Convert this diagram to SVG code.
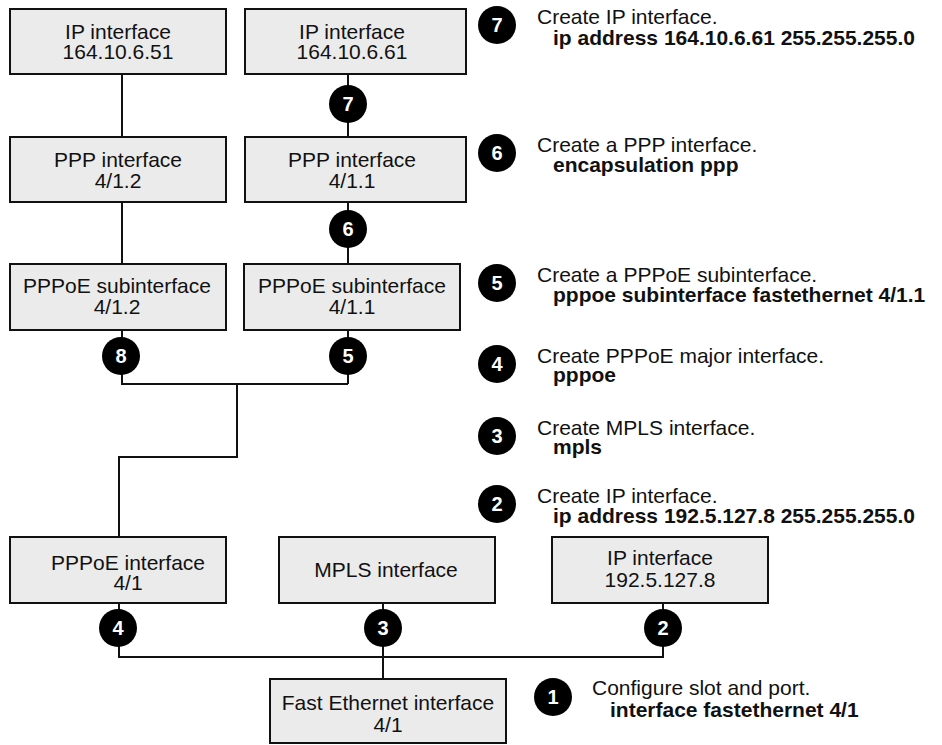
<svg xmlns="http://www.w3.org/2000/svg" width="942" height="745" viewBox="0 0 942 745">
  <style>
    .box { fill: #ebebeb; stroke: #111; stroke-width: 2; }
    .lbl { font-family: "Liberation Sans", Arial, sans-serif; font-size: 21px; fill: #111; text-anchor: middle; }
    .wire { fill: none; stroke: #111; stroke-width: 2; }
    .dot { fill: #000; }
    .num { font-family: "Liberation Sans", Arial, sans-serif; font-size: 20px; font-weight: bold; fill: #fff; text-anchor: middle; }
    .step { font-family: "Liberation Sans", Arial, sans-serif; font-size: 21px; fill: #111; }
    .cmd { font-family: "Liberation Sans", Arial, sans-serif; font-size: 21px; font-weight: bold; fill: #111; }
  </style>
  <defs>
    <g id="badge"><circle class="dot" r="19"/></g>
  </defs>

  <rect width="942" height="745" fill="#fff"/>

  <!-- connectors -->
  <g id="connectors">
    <path class="wire" d="M122 74 V137 M122 202 V264 M122 330 V384 H348 M348 330 V384"/>
    <path class="wire" d="M348 74 V137 M348 202 V264"/>
    <path class="wire" d="M237 384 V457 H119 V537"/>
    <path class="wire" d="M119 603 V657 H663 V603 M383 603 V679"/>
  </g>

  <!-- interface nodes -->
  <g id="ip-164-10-6-51">
    <rect class="box" x="10" y="9" width="216" height="65"/>
    <text class="lbl" x="118" y="39">IP interface</text>
    <text class="lbl" x="118" y="59">164.10.6.51</text>
  </g>
  <g id="ip-164-10-6-61">
    <rect class="box" x="245" y="9" width="221" height="65"/>
    <text class="lbl" x="352" y="39">IP interface</text>
    <text class="lbl" x="352" y="59">164.10.6.61</text>
  </g>
  <g id="ppp-4-1-2">
    <rect class="box" x="10" y="137" width="216" height="65"/>
    <text class="lbl" x="118" y="167">PPP interface</text>
    <text class="lbl" x="118" y="188">4/1.2</text>
  </g>
  <g id="ppp-4-1-1">
    <rect class="box" x="245" y="137" width="221" height="65"/>
    <text class="lbl" x="352" y="167">PPP interface</text>
    <text class="lbl" x="352" y="188">4/1.1</text>
  </g>
  <g id="pppoe-sub-4-1-2">
    <rect class="box" x="10" y="264" width="216" height="66"/>
    <text class="lbl" x="117" y="293">PPPoE subinterface</text>
    <text class="lbl" x="117" y="314">4/1.2</text>
  </g>
  <g id="pppoe-sub-4-1-1">
    <rect class="box" x="244" y="264" width="216" height="66"/>
    <text class="lbl" x="352" y="293">PPPoE subinterface</text>
    <text class="lbl" x="352" y="314">4/1.1</text>
  </g>
  <g id="pppoe-4-1">
    <rect class="box" x="10" y="537" width="216" height="66"/>
    <text class="lbl" x="128" y="570">PPPoE interface</text>
    <text class="lbl" x="128" y="590">4/1</text>
  </g>
  <g id="mpls">
    <rect class="box" x="279" y="537" width="216" height="66"/>
    <text class="lbl" x="386" y="577">MPLS interface</text>
  </g>
  <g id="ip-192-5-127-8">
    <rect class="box" x="552" y="537" width="216" height="66"/>
    <text class="lbl" x="660" y="565">IP interface</text>
    <text class="lbl" x="660" y="587">192.5.127.8</text>
  </g>
  <g id="fastethernet-4-1">
    <rect class="box" x="270" y="679" width="236" height="64"/>
    <text class="lbl" x="388" y="710">Fast Ethernet interface</text>
    <text class="lbl" x="388" y="732">4/1</text>
  </g>

  <!-- step badges on the connectors -->
  <g id="badges-on-wires">
    <use href="#badge" x="348" y="104"/><text class="num" x="348" y="111">7</text>
    <use href="#badge" x="348" y="229"/><text class="num" x="348" y="236">6</text>
    <use href="#badge" x="121" y="356"/><text class="num" x="121" y="363">8</text>
    <use href="#badge" x="348" y="356"/><text class="num" x="348" y="363">5</text>
    <use href="#badge" x="118" y="628"/><text class="num" x="118" y="635">4</text>
    <use href="#badge" x="383" y="628"/><text class="num" x="383" y="635">3</text>
    <use href="#badge" x="663" y="628"/><text class="num" x="663" y="635">2</text>
  </g>

  <!-- step list -->
  <g id="step-7">
    <use href="#badge" x="497" y="25"/><text class="num" x="497" y="32">7</text>
    <text class="step" x="537" y="24">Create IP interface.</text>
    <text class="cmd" x="553" y="45">ip address 164.10.6.61 255.255.255.0</text>
  </g>
  <g id="step-6">
    <use href="#badge" x="497" y="153"/><text class="num" x="497" y="160">6</text>
    <text class="step" x="537" y="152">Create a PPP interface.</text>
    <text class="cmd" x="553" y="172">encapsulation ppp</text>
  </g>
  <g id="step-5">
    <use href="#badge" x="497" y="283"/><text class="num" x="497" y="290">5</text>
    <text class="step" x="537" y="282">Create a PPPoE subinterface.</text>
    <text class="cmd" x="553" y="302">pppoe subinterface fastethernet 4/1.1</text>
  </g>
  <g id="step-4">
    <use href="#badge" x="497" y="364"/><text class="num" x="497" y="371">4</text>
    <text class="step" x="537" y="363">Create PPPoE major interface.</text>
    <text class="cmd" x="553" y="382">pppoe</text>
  </g>
  <g id="step-3">
    <use href="#badge" x="497" y="436"/><text class="num" x="497" y="443">3</text>
    <text class="step" x="537" y="435">Create MPLS interface.</text>
    <text class="cmd" x="553" y="454">mpls</text>
  </g>
  <g id="step-2">
    <use href="#badge" x="497" y="504"/><text class="num" x="497" y="511">2</text>
    <text class="step" x="537" y="503">Create IP interface.</text>
    <text class="cmd" x="553" y="523">ip address 192.5.127.8 255.255.255.0</text>
  </g>
  <g id="step-1">
    <use href="#badge" x="553" y="697"/><text class="num" x="553" y="704">1</text>
    <text class="step" x="592" y="695">Configure slot and port.</text>
    <text class="cmd" x="610" y="717">interface fastethernet 4/1</text>
  </g>
</svg>
